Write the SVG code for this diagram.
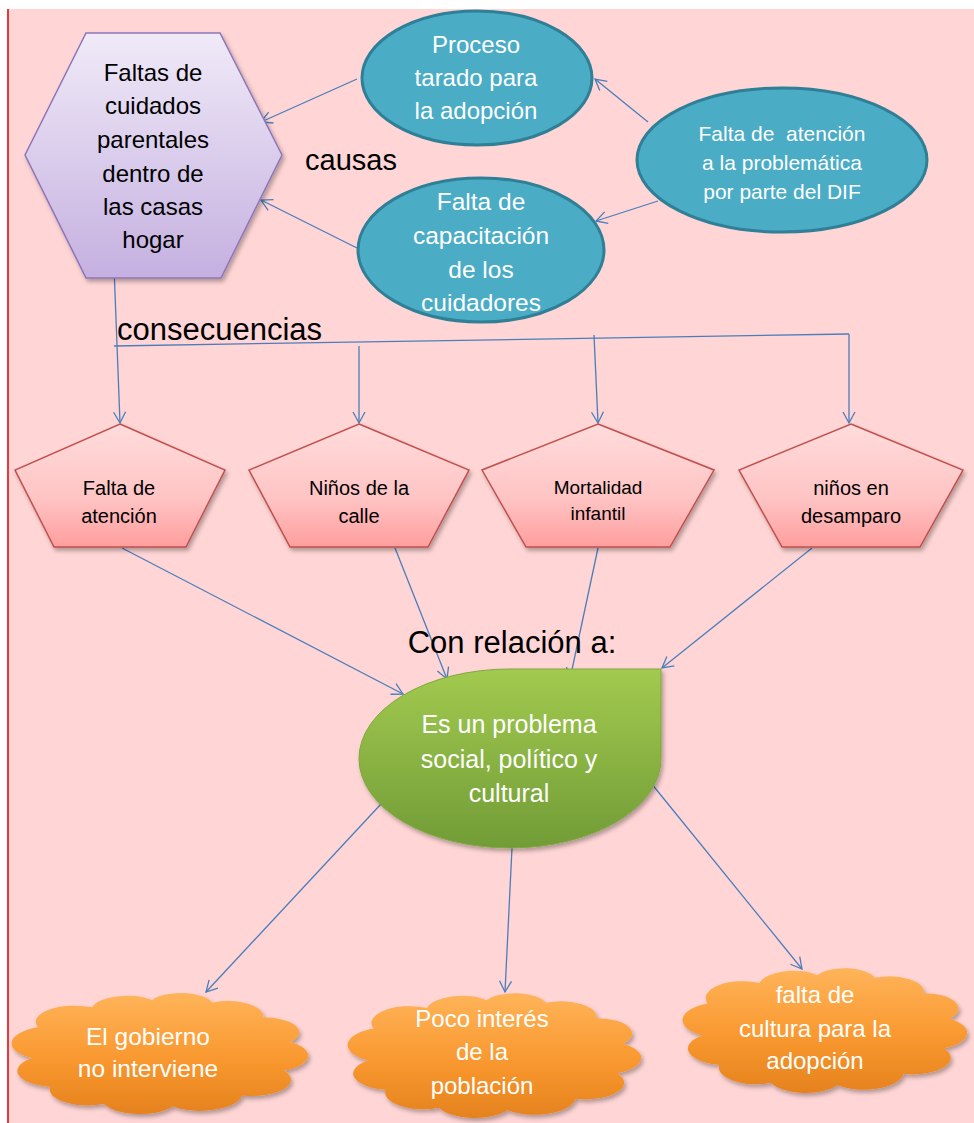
<svg xmlns="http://www.w3.org/2000/svg" width="974" height="1123" viewBox="0 0 974 1123">
<style>
.t{font-family:"Liberation Sans",Arial,sans-serif;text-anchor:middle}
.w{fill:#ffffff}
.k{fill:#000000}
.c{fill:none;stroke:#4A7EBB;stroke-width:1.3;marker-end:url(#arr)}
.ell{fill:#4BACC6;stroke:#2F7F96;stroke-width:3}
.pent{fill:url(#gPent);stroke:#C0504D;stroke-width:1.5;filter:url(#sh)}
</style>
<defs>
<marker id="arr" markerUnits="userSpaceOnUse" markerWidth="14" markerHeight="14" refX="12" refY="7" orient="auto">
<path d="M1,1 L12,7 L1,13" fill="none" stroke="#4A7EBB" stroke-width="1.3"/>
</marker>
<linearGradient id="gHex" x1="0" y1="0" x2="0" y2="1">
<stop offset="0" stop-color="#F0EAF8"/><stop offset="1" stop-color="#C5B0E0"/>
</linearGradient>
<linearGradient id="gPent" x1="0" y1="0" x2="0" y2="1">
<stop offset="0" stop-color="#FFDCDC"/><stop offset="0.6" stop-color="#FFC4C4"/><stop offset="1" stop-color="#FF9E9E"/>
</linearGradient>
<linearGradient id="gGreen" x1="0" y1="0" x2="0" y2="1">
<stop offset="0" stop-color="#A2CA50"/><stop offset="1" stop-color="#719C36"/>
</linearGradient>
<linearGradient id="gCloud" x1="0" y1="0" x2="0" y2="1">
<stop offset="0" stop-color="#FFB45A"/><stop offset="0.55" stop-color="#F9982F"/><stop offset="1" stop-color="#E5821E"/>
</linearGradient>
<filter id="sh" x="-10%" y="-10%" width="125%" height="130%">
<feDropShadow dx="2" dy="3" stdDeviation="2" flood-color="#000000" flood-opacity="0.3"/>
</filter>
<symbol id="cloud" viewBox="0 0 100 100" preserveAspectRatio="none" overflow="visible">
<path d="M8,55 A14,14 0 0 1 10,30 A13,13 0 0 1 28,14 A12,12 0 0 1 48,8 A11,11 0 0 1 68,10 A12,12 0 0 1 85,22 A12,12 0 0 1 94,42 A13,13 0 0 1 92,65 A13,13 0 0 1 78,85 A14,14 0 0 1 55,94 A13,13 0 0 1 32,92 A13,13 0 0 1 14,78 A13,13 0 0 1 8,55 Z"/>
</symbol>
</defs>

<rect x="0" y="0" width="974" height="1123" fill="#ffffff"/>
<rect x="7" y="9" width="967" height="1114" fill="#FFD5D5"/>
<line x1="8" y1="9" x2="8" y2="1123" stroke="#E8383A" stroke-width="2"/>

<g id="connectors">
<path class="c" d="M357,79 L261,122"/>
<path class="c" d="M357,248 L261,200"/>
<path class="c" d="M648,122 L595,79"/>
<path class="c" d="M658,201 L596,221"/>
<path class="c" d="M114,267 L120,423"/>
<path fill="none" stroke="#4A7EBB" stroke-width="1.3" d="M114,346 L849,334"/>
<path class="c" d="M359,346 L359,423"/>
<path class="c" d="M594,335 L598,423"/>
<path class="c" d="M849,334 L849,423"/>
<path class="c" d="M122,548 L403,694"/>
<path class="c" d="M395,548 L447,679"/>
<path class="c" d="M598,548 L570,679"/>
<path class="c" d="M812,548 L662,668"/>
<path class="c" d="M381,804 L206,992"/>
<path class="c" d="M512,848 L505,992"/>
<path class="c" d="M651,783 L802,969"/>
</g>

<g id="hexagon">
<polygon points="86,33 220,33 282,155 221,278 86,278 25,155" fill="url(#gHex)" stroke="#8C75BA" stroke-width="1.5" filter="url(#sh)"/>
<text class="t k" font-size="24" x="153" y="81">Faltas de</text>
<text class="t k" font-size="24" x="153" y="114">cuidados</text>
<text class="t k" font-size="24" x="153" y="148">parentales</text>
<text class="t k" font-size="24" x="153" y="182">dentro de</text>
<text class="t k" font-size="24" x="153" y="215">las casas</text>
<text class="t k" font-size="24" x="153" y="248">hogar</text>
</g>

<g id="label-causas">
<text class="k" font-family="Liberation Sans, Arial, sans-serif" font-size="29" x="305" y="170">causas</text>
</g>
<g id="label-consecuencias">
<text class="k" font-family="Liberation Sans, Arial, sans-serif" font-size="31" x="117" y="340">consecuencias</text>
</g>

<g id="ellipse-proceso">
<ellipse class="ell" cx="477" cy="78" rx="115" ry="67"/>
<text class="t w" font-size="24" x="476" y="53">Proceso</text>
<text class="t w" font-size="24" x="476" y="86">tarado para</text>
<text class="t w" font-size="24" x="476" y="119">la adopción</text>
</g>

<g id="ellipse-capacitacion">
<ellipse class="ell" cx="481" cy="250" rx="123" ry="72"/>
<text class="t w" font-size="24.5" x="481" y="210">Falta de</text>
<text class="t w" font-size="24.5" x="481" y="244">capacitación</text>
<text class="t w" font-size="24.5" x="481" y="278">de los</text>
<text class="t w" font-size="24.5" x="481" y="311">cuidadores</text>
</g>

<g id="ellipse-dif">
<ellipse class="ell" cx="782" cy="160" rx="145" ry="72"/>
<text class="t w" font-size="21" x="782" y="141" xml:space="preserve">Falta de  atención</text>
<text class="t w" font-size="21" x="782" y="170">a la problemática</text>
<text class="t w" font-size="21" x="782" y="199">por parte del DIF</text>
</g>

<g id="pent-falta">
<polygon class="pent" points="120,424 225,470 186,547 54,547 15,470"/>
<text class="t k" font-size="20" x="119" y="495">Falta de</text>
<text class="t k" font-size="20" x="119" y="523">atención</text>
</g>
<g id="pent-ninos-calle">
<polygon class="pent" points="359,424 469,470 428,547 290,547 249,470"/>
<text class="t k" font-size="20" x="359" y="495">Niños de la</text>
<text class="t k" font-size="20" x="359" y="523">calle</text>
</g>
<g id="pent-mortalidad">
<polygon class="pent" points="598,424 714,470 670,547 526,547 482,470"/>
<text class="t k" font-size="19" x="598" y="494">Mortalidad</text>
<text class="t k" font-size="19" x="598" y="520">infantil</text>
</g>
<g id="pent-desamparo">
<polygon class="pent" points="851,424 963,470 920,547 782,547 739,470"/>
<text class="t k" font-size="20" x="851" y="495">niños en</text>
<text class="t k" font-size="20" x="851" y="523">desamparo</text>
</g>

<g id="label-relacion">
<text class="t k" font-size="31" x="512" y="653">Con relación a:</text>
</g>

<g id="teardrop">
<path d="M510,669 L661,669 L661,758 A151,89.5 0 1 1 510,669 Z" fill="url(#gGreen)" stroke="#7FA83F" stroke-width="1" filter="url(#sh)"/>
<text class="t w" font-size="25" x="509" y="733">Es un problema</text>
<text class="t w" font-size="25" x="509" y="768">social, político y</text>
<text class="t w" font-size="25" x="509" y="802">cultural</text>
</g>

<g id="cloud-gobierno">
<use href="#cloud" x="8" y="990" width="300" height="124" fill="url(#gCloud)" filter="url(#sh)"/>
<text class="t w" font-size="24.5" x="148" y="1045">El gobierno</text>
<text class="t w" font-size="24.5" x="148" y="1077">no interviene</text>
</g>
<g id="cloud-poblacion">
<use href="#cloud" x="344" y="990" width="297" height="128" fill="url(#gCloud)" filter="url(#sh)"/>
<text class="t w" font-size="24" x="482" y="1027">Poco interés</text>
<text class="t w" font-size="24" x="482" y="1060">de la</text>
<text class="t w" font-size="24" x="482" y="1094">población</text>
</g>
<g id="cloud-cultura">
<use href="#cloud" x="679" y="965" width="288" height="128" fill="url(#gCloud)" filter="url(#sh)"/>
<text class="t w" font-size="24" x="815" y="1003">falta de</text>
<text class="t w" font-size="24" x="815" y="1037">cultura para la</text>
<text class="t w" font-size="24" x="815" y="1069">adopción</text>
</g>
</svg>
